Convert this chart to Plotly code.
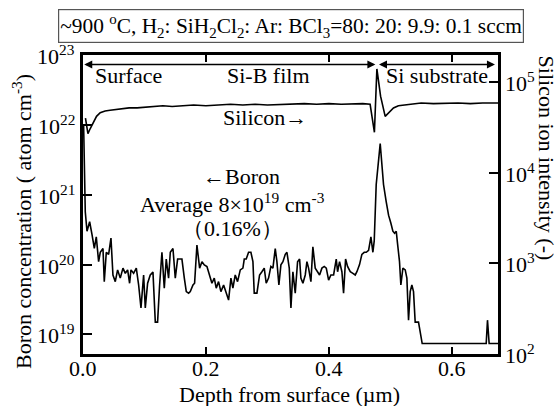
import math
import plotly.graph_objects as go

# ---------------- data ----------------
boron_depth = [0.001, 0.0037, 0.0065, 0.0108, 0.0146, 0.0184, 0.0216, 0.0254, 0.0281, 0.0325,
               0.0346, 0.0379, 0.0417, 0.0455, 0.0487, 0.0525, 0.0563, 0.0606, 0.0650, 0.0688,
               0.0726, 0.0758, 0.0780, 0.0823, 0.0867, 0.0905, 0.0943, 0.0986, 0.1013, 0.1051,
               0.1094, 0.1138, 0.1176, 0.1213, 0.1246, 0.1284, 0.1322, 0.1354, 0.1392, 0.1420,
               0.1463, 0.1501, 0.1539, 0.1571, 0.1609, 0.1648, 0.1680, 0.1718, 0.1745, 0.1789,
               0.1815, 0.1853, 0.1897, 0.1935, 0.1973, 0.2016, 0.2059, 0.2097, 0.2135, 0.2167,
               0.2205, 0.2243, 0.2287, 0.2330, 0.2368, 0.2406, 0.2438, 0.2476, 0.2514, 0.2558,
               0.2601, 0.2623, 0.2655, 0.2693, 0.2731, 0.2764, 0.2785, 0.2829, 0.2872, 0.2910,
               0.2948, 0.2980, 0.3018, 0.3056, 0.3089, 0.3127, 0.3154, 0.3186, 0.3219, 0.3252,
               0.3290, 0.3317, 0.3355, 0.3382, 0.3414, 0.3452, 0.3490, 0.3523, 0.3544, 0.3577,
               0.3615, 0.3642, 0.3669, 0.3707, 0.3739, 0.3777, 0.3815, 0.3848, 0.3886, 0.3924,
               0.3957, 0.3995, 0.4032, 0.4076, 0.4119, 0.4141, 0.4173, 0.4211, 0.4238, 0.4271,
               0.4303, 0.4347, 0.4390, 0.4428, 0.4455, 0.4498, 0.4536, 0.4574, 0.4607, 0.4645,
               0.4683, 0.4715, 0.4737, 0.4769, 0.4834, 0.4888, 0.4932, 0.4970, 0.5008, 0.5040,
               0.5068, 0.5095, 0.5116, 0.5148, 0.5170, 0.5203, 0.5241, 0.5268, 0.5295, 0.5322,
               0.5349, 0.5376, 0.5403, 0.5457, 0.5517, 0.6558, 0.6579, 0.6606, 0.675]
boron_conc = [1.0e22, 5.7e20, 3.0e20, 4.1e20, 2.7e20, 1.7e20, 2.5e20, 1.1e20, 1.5e20, 1.7e20,
              5.7e19, 1.5e20, 1.4e20, 2.4e20, 7.1e19, 5.7e19, 8.4e19, 6.4e19, 8.9e19, 7.5e19,
              8.4e19, 5.4e19, 8.4e19, 7.5e19, 8.9e19, 5.1e19, 2.4e19, 7.1e19, 2.4e19, 5.4e19,
              7.1e19, 7.8e19, 1.5e19, 1.5e19, 5.1e19, 1.5e20, 4.6e19, 1.2e20, 6.4e19, 1.5e20,
              1.7e20, 6.4e19, 1.2e20, 1.2e20, 1.2e20, 6.4e19, 4.1e19, 3.9e19, 4.1e19, 5.1e19,
              5.4e19, 1.9e20, 8.9e19, 1.1e20, 9.9e19, 9.4e19, 7.1e19, 5.4e19, 6.4e19, 4.6e19,
              5.7e19, 4.1e19, 5.1e19, 3.9e19, 3.1e19, 6.4e19, 4.6e19, 7.1e19, 5.7e19, 8.4e19,
              8.9e19, 1.2e20, 1.2e20, 1.5e20, 1.5e20, 1.1e20, 3.9e19, 3.9e19, 7.1e19, 7.9e19,
              8.9e19, 5.4e19, 6.4e19, 9.4e19, 8.9e19, 1.7e20, 1.1e20, 5.1e19, 9.9e19, 1.1e20,
              1.4e20, 1.5e20, 8.9e19, 2.4e19, 7.9e19, 3.9e19, 1.1e20, 1.2e20, 6.4e19, 5.4e19,
              7.1e19, 1.1e20, 8.9e19, 5.7e19, 1.8e20, 8.9e19, 7.9e19, 7.1e19, 8.9e19, 9.4e19,
              8.9e19, 6.0e19, 7.1e19, 7.1e19, 1.2e20, 7.9e19, 1.1e20, 7.9e19, 3.9e19, 1.2e20,
              9.4e19, 7.9e19, 7.5e19, 7.1e19, 7.9e19, 1.0e20, 1.4e20, 1.5e20, 1.5e20, 1.6e20,
              2.5e20, 1.5e20, 2.2e20, 1.4e21, 5.4e21, 1.4e21, 7.9e20, 5.1e20, 3.9e20, 3.0e20,
              2.8e20, 3.0e20, 2.0e20, 1.1e20, 5.1e19, 8.9e19, 8.4e19, 6.4e19, 1.6e19, 4.1e19,
              5.1e19, 4.1e19, 1.5e19, 1.5e19, 7.4e18, 7.4e18, 1.6e19, 7.4e18, 7.4e18]

silicon_depth = [0.004, 0.008, 0.012, 0.017, 0.022, 0.028, 0.036, 0.044, 0.055, 0.065,
                 0.075, 0.088, 0.100, 0.115, 0.130, 0.145, 0.160, 0.180, 0.200, 0.220,
                 0.240, 0.260, 0.280, 0.300, 0.320, 0.340, 0.360, 0.380, 0.400, 0.420,
                 0.440, 0.455, 0.467, 0.471, 0.474, 0.478, 0.484, 0.4915, 0.497, 0.505,
                 0.513, 0.521, 0.535, 0.550, 0.570, 0.590, 0.610, 0.630, 0.650, 0.675]
silicon_int = [4.0e4, 2.7e4, 3.1e4, 3.6e4, 4.2e4, 4.6e4, 4.8e4, 4.9e4, 5.0e4, 5.1e4,
               5.2e4, 5.2e4, 5.3e4, 5.4e4, 5.5e4, 5.4e4, 5.5e4, 5.6e4, 5.5e4, 5.6e4,
               5.7e4, 5.6e4, 5.7e4, 5.6e4, 5.7e4, 5.7e4, 5.8e4, 5.7e4, 5.8e4, 5.7e4,
               5.8e4, 5.8e4, 5.7e4, 4.0e4, 2.8e4, 1.4e5, 7.0e4, 4.2e4, 4.6e4, 5.2e4,
               5.5e4, 5.6e4, 5.8e4, 5.9e4, 5.8e4, 5.9e4, 5.9e4, 5.8e4, 5.9e4, 5.9e4]

x_tick_vals = [0.0, 0.2, 0.4, 0.6]
x_tick_text = ["0.0", "0.2", "0.4", "0.6"]
left_tick_vals = [1e19, 1e20, 1e21, 1e22, 1e23]
left_tick_text = ["10<sup>19</sup>", "10<sup>20</sup>", "10<sup>21</sup>", "10<sup>22</sup>", "10<sup>23</sup>"]
right_tick_vals = [1e2, 1e3, 1e4, 1e5]
right_tick_text = ["10<sup>2</sup>", "10<sup>3</sup>", "10<sup>4</sup>", "10<sup>5</sup>"]

FONT = "Liberation Serif, Times New Roman, serif"
FS = 22
LEFT_RANGE = [18.72, 23.0]
RIGHT_RANGE = [2, 5.3]

left_minor = [m * 10.0 ** e for e in range(18, 23) for m in range(2, 10)]
right_minor = [m * 10.0 ** e for e in range(2, 6) for m in range(2, 10)]

fig = go.Figure()
fig.add_trace(go.Scatter(x=boron_depth, y=boron_conc, mode="lines",
                         line=dict(color="black", width=1.6), showlegend=False))
fig.add_trace(go.Scatter(x=silicon_depth, y=silicon_int, mode="lines", yaxis="y2",
                         line=dict(color="black", width=1.6), showlegend=False))

axis_common = dict(showline=True, linecolor="black", linewidth=2.5, ticks="inside",
                   tickcolor="black", tickwidth=1.5, showgrid=False, zeroline=False,
                   automargin=False, showticklabels=False)
minor_common = dict(type="log", showline=False, ticks="inside", ticklen=5, tickwidth=1,
                    tickcolor="black", showgrid=False, zeroline=False, automargin=False,
                    showticklabels=False, tickmode="array", overlaying="y")

fig.update_layout(
    width=558, height=406,
    margin=dict(l=83, r=60, t=55, b=52),
    paper_bgcolor="white", plot_bgcolor="white",
    font=dict(family=FONT, size=FS, color="black"),
    xaxis=dict(range=[0, 0.675], tickmode="array", tickvals=x_tick_vals,
               ticklen=7, mirror="ticks", **axis_common),
    yaxis=dict(type="log", range=LEFT_RANGE, tickmode="array", tickvals=left_tick_vals,
               ticklen=9, **axis_common),
    yaxis2=dict(type="log", range=RIGHT_RANGE, overlaying="y", side="right", tickmode="array",
                tickvals=right_tick_vals, ticklen=9, **axis_common),
    yaxis3=dict(range=LEFT_RANGE, side="left", tickvals=left_minor, **minor_common),
    yaxis4=dict(range=RIGHT_RANGE, side="right", tickvals=right_minor, **minor_common),
)

txt_font = dict(family=FONT, size=FS, color="black")
ann = []
# tick labels
for v, t in zip(x_tick_vals, x_tick_text):
    ann.append(dict(xref="x", yref="paper", x=v, y=-0.047, xanchor="center", yanchor="middle",
                    text=t, showarrow=False, font=txt_font))
for v, t in zip(left_tick_vals, left_tick_text):
    ann.append(dict(xref="paper", yref="y", x=-0.0145, y=math.log10(v), xanchor="right", yanchor="middle",
                    text=t, showarrow=False, font=txt_font))
for v, t in zip(right_tick_vals, right_tick_text):
    ann.append(dict(xref="paper", yref="y2", x=1.011, y=math.log10(v), xanchor="left", yanchor="middle",
                    text=t, showarrow=False, font=txt_font))
# condition box
ann.append(dict(xref="paper", yref="paper", x=0.5, y=1.098, xanchor="center", yanchor="middle",
                text="~900 <sup>o</sup>C, H<sub>2</sub>: SiH<sub>2</sub>Cl<sub>2</sub>: Ar: BCl<sub>3</sub>=80: 20: 9.9: 0.1 sccm",
                showarrow=False, bordercolor="#555", borderwidth=1.2, borderpad=1, bgcolor="white",
                font=dict(family=FONT, size=21.4, color="black")))
# axis titles
ann.append(dict(xref="paper", yref="paper", x=0.4985, y=-0.137, xanchor="center", yanchor="middle",
                text="Depth from surface (µm)", showarrow=False, font=txt_font))
ann.append(dict(xref="paper", yref="paper", x=-0.147, y=0.445, xanchor="center", yanchor="middle",
                textangle=-90, text="Boron concentration ( atom cm<sup>-3</sup>)", showarrow=False,
                font=txt_font))
ann.append(dict(xref="paper", yref="paper", x=1.117, y=0.655, xanchor="center", yanchor="middle",
                textangle=90, text="Silicon ion intensity (-)", showarrow=False, font=txt_font))
# region arrows
ann.append(dict(xref="x", yref="paper", x=0.002, y=0.968, axref="x", ayref="pixel", ax=0.478, ay=0,
                text="", showarrow=True, arrowside="end+start", arrowhead=2, arrowsize=1, arrowwidth=1.6,
                arrowcolor="black"))
ann.append(dict(xref="x", yref="paper", x=0.670, y=0.968, axref="x", ayref="pixel", ax=0.479, ay=0,
                text="", showarrow=True, arrowside="end+start", arrowhead=2, arrowsize=1, arrowwidth=1.6,
                arrowcolor="black"))
# region labels
for txt, xv in [("Surface", 0.0745), ("Si-B film", 0.3025), ("Si substrate", 0.575)]:
    ann.append(dict(xref="x", yref="paper", x=xv, y=0.93, xanchor="center", yanchor="middle",
                    text=txt, showarrow=False, font=txt_font))
ann.append(dict(xref="x", yref="paper", x=0.2965, y=0.79, xanchor="center", yanchor="middle",
                text="Silicon→", showarrow=False, font=txt_font))
ann.append(dict(xref="x", yref="paper", x=0.257, y=0.592, xanchor="center", yanchor="middle",
                text="←Boron", showarrow=False, font=txt_font))
ann.append(dict(xref="x", yref="paper", x=0.243, y=0.505, xanchor="center", yanchor="middle",
                text="Average 8×10<sup>19</sup> cm<sup>-3</sup>", showarrow=False, font=txt_font))
ann.append(dict(xref="x", yref="paper", x=0.243, y=0.42, xanchor="center", yanchor="middle",
                text="（0.16%）", showarrow=False, font=txt_font))
fig.update_layout(annotations=ann)

fig.write_html("out.html", config={"displayModeBar": False},
               post_script="document.body.style.margin='0px';")
